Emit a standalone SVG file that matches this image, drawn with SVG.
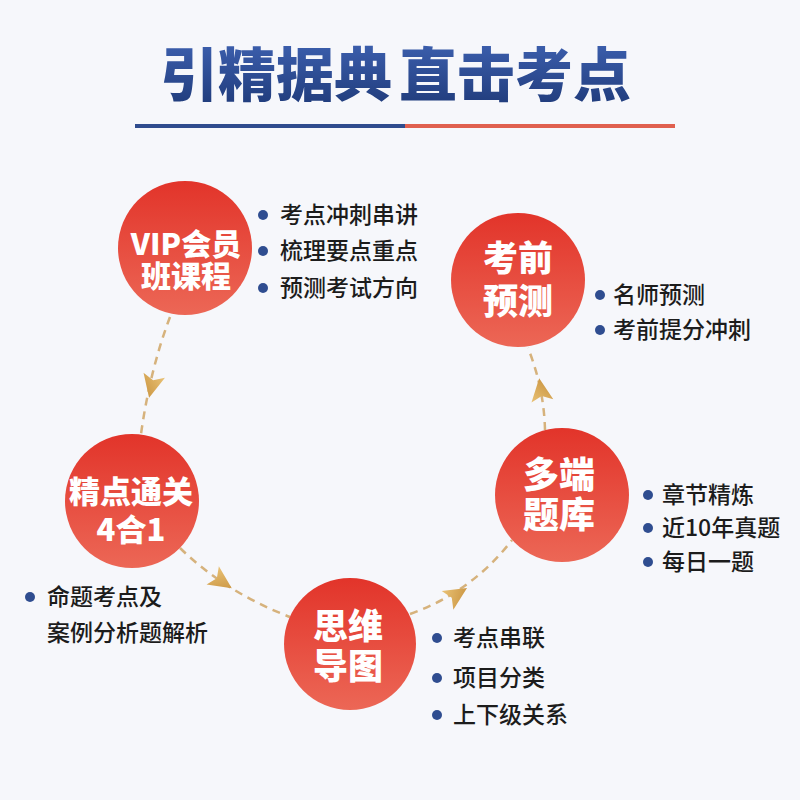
<svg xmlns="http://www.w3.org/2000/svg" width="800" height="800" viewBox="0 0 800 800">
<defs>
<linearGradient id="titleGrad" x1="0" y1="0" x2="0" y2="1">
<stop offset="0" stop-color="#4266b8"/>
<stop offset="1" stop-color="#1d3876"/>
</linearGradient>
<linearGradient id="redGrad" x1="0" y1="0" x2="0" y2="1">
<stop offset="0" stop-color="#e2342a"/>
<stop offset="1" stop-color="#ec6756"/>
</linearGradient>
<linearGradient id="goldGrad" x1="0" y1="0" x2="1" y2="1">
<stop offset="0" stop-color="#e9c276"/>
<stop offset="1" stop-color="#c58d38"/>
</linearGradient>
<path id="arrowhead" d="M13,0 L-10,-11 L-5,0 L-10,11 Z" fill="url(#goldGrad)"/>
<style>
.node circle.disc{fill:url(#redGrad);}
.ct{font-family:"Noto Sans CJK SC","Liberation Sans",sans-serif;font-weight:900;fill:#ffffff;text-anchor:middle;}
.bt{font-family:"Noto Sans CJK SC","Liberation Sans",sans-serif;font-size:23px;font-weight:500;fill:#1c1c1c;}
.dot{fill:#2f4d90;}
.conn{fill:none;stroke:#d6b27c;stroke-width:2.5;stroke-dasharray:8 6;}
</style>
</defs>
<rect width="800" height="800" fill="#f6f7fb"/>
<g id="title">
<text x="160" y="96" font-family="'Noto Sans CJK SC',sans-serif" font-weight="900" font-size="58" fill="url(#titleGrad)">引精据典</text>
<text x="399" y="96" font-family="'Noto Sans CJK SC',sans-serif" font-weight="900" font-size="58" fill="url(#titleGrad)">直击考点</text>
<rect x="135" y="124" width="270" height="4" fill="#2f4c8e"/>
<rect x="405" y="124" width="270" height="4" fill="#e0604f"/>
</g>
<g id="connectors">
<path class="conn" d="M170 317 Q150 370 141 434"/>
<path class="conn" d="M180 548 Q225 592 290 617"/>
<path class="conn" d="M410 614 Q472 592 512 540"/>
<path class="conn" d="M545 430 Q544 388 528 348"/>
<use href="#arrowhead" transform="translate(152,385) rotate(103)"/>
<use href="#arrowhead" transform="translate(221,581) rotate(34)"/>
<use href="#arrowhead" transform="translate(456,595) rotate(-32)"/>
<use href="#arrowhead" transform="translate(541,391) rotate(-98)"/>
</g>
<g id="node-vip" class="node">
<circle class="disc" cx="185" cy="248" r="67"/>
<text class="ct" font-size="30"><tspan x="186" y="255">VIP会员</tspan><tspan x="186" y="287">班课程</tspan></text>
<circle class="dot" cx="263" cy="215" r="5"/>
<circle class="dot" cx="263" cy="251" r="5"/>
<circle class="dot" cx="263" cy="288" r="5"/>
<text class="bt" x="280" y="223">考点冲刺串讲</text>
<text class="bt" x="280" y="259">梳理要点重点</text>
<text class="bt" x="280" y="296">预测考试方向</text>
</g>
<g id="node-kaoqian" class="node">
<circle class="disc" cx="518" cy="280" r="67"/>
<text class="ct" font-size="35"><tspan x="518" y="271">考前</tspan><tspan x="518" y="314">预测</tspan></text>
<circle class="dot" cx="600" cy="295" r="5"/>
<circle class="dot" cx="600" cy="330" r="5"/>
<text class="bt" x="613" y="303">名师预测</text>
<text class="bt" x="613" y="338">考前提分冲刺</text>
</g>
<g id="node-jingdian" class="node">
<circle class="disc" cx="132" cy="501" r="67"/>
<text class="ct" font-size="31"><tspan x="131" y="503">精点通关</tspan><tspan x="131" y="541">4合1</tspan></text>
<circle class="dot" cx="30" cy="597" r="5"/>
<text class="bt" x="47" y="605">命题考点及</text>
<text class="bt" x="47" y="641">案例分析题解析</text>
</g>
<g id="node-siwei" class="node">
<circle class="disc" cx="350" cy="644" r="66"/>
<text class="ct" font-size="35"><tspan x="348" y="639">思维</tspan><tspan x="348" y="679">导图</tspan></text>
<circle class="dot" cx="437" cy="638" r="5"/>
<circle class="dot" cx="437" cy="678" r="5"/>
<circle class="dot" cx="437" cy="715" r="5"/>
<text class="bt" x="453" y="646">考点串联</text>
<text class="bt" x="453" y="686">项目分类</text>
<text class="bt" x="453" y="723">上下级关系</text>
</g>
<g id="node-duoduan" class="node">
<circle class="disc" cx="562" cy="495" r="67"/>
<text class="ct" font-size="36"><tspan x="559" y="488">多端</tspan><tspan x="559" y="528">题库</tspan></text>
<circle class="dot" cx="648" cy="495" r="5"/>
<circle class="dot" cx="648" cy="528" r="5"/>
<circle class="dot" cx="648" cy="562" r="5"/>
<text class="bt" x="662" y="503">章节精炼</text>
<text class="bt" x="662" y="536">近10年真题</text>
<text class="bt" x="662" y="570">每日一题</text>
</g>
</svg>
